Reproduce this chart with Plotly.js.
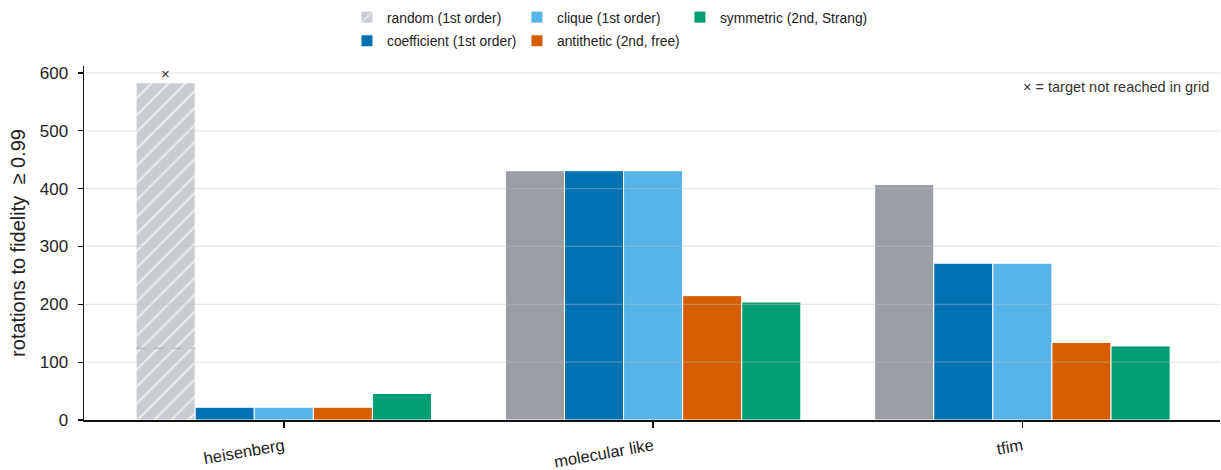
<!DOCTYPE html>
<html>
<head>
<meta charset="utf-8">
<script src="https://cdn.plot.ly/plotly-3.0.1.min.js"></script>
<style>
  html, body { margin: 0; padding: 0; background: #fff; }
  #chart { width: 1221px; height: 470px; }
</style>
</head>
<body>
<div id="chart"></div>
<script>
// Hamiltonian families on the x axis
const families = ["heisenberg", "molecular like", "tfim"];

// Rotations needed to reach fidelity >= 0.99, per ordering scheme
const randomVals      = [583, 431, 407];
const coefficientVals = [22, 431, 271];
const cliqueVals      = [22, 431, 271];
const antitheticVals  = [22, 215, 134];
const symmetricVals   = [46, 204, 128];

// Families where the random ordering never hit the target inside the scanned grid
const notReached = [true, false, false];
// Secondary reference level drawn inside the unreached random bar
const randomInnerLevel = [124, null, null];

const yTicks = [0, 100, 200, 300, 400, 500, 600];

const seriesNames = [
  "random (1st order)",
  "coefficient (1st order)",
  "clique (1st order)",
  "antithetic (2nd, free)",
  "symmetric (2nd, Strang)"
];

const COLORS = {
  randomHatched: "#c9ccd0",
  hatchStripe: "#e9ebed",
  random: "#9b9fa5",
  coefficient: "#0072b2",
  clique: "#56b4e9",
  antithetic: "#d55e00",
  symmetric: "#009e73"
};

const FONT = "Liberation Sans, Arial, Helvetica, sans-serif";
const BARGAP = 0.2;
const NSERIES = 5;
const barWidthCat = (1 - BARGAP) / NSERIES;

const whiteEdge = { color: "#ffffff", width: 1 };

// Random ordering is split in two traces sharing one slot:
// hatched where the target was not reached, solid grey elsewhere.
const randomUnreached = randomVals.map((v, i) => notReached[i] ? v : null);
const randomReached   = randomVals.map((v, i) => notReached[i] ? null : v);

const traces = [
  {
    type: "bar", name: seriesNames[0], x: families, y: randomUnreached,
    offsetgroup: "random", legend: "legend", legendrank: 1,
    marker: {
      color: COLORS.randomHatched,
      line: whiteEdge,
      pattern: {
        shape: "/", bgcolor: COLORS.randomHatched, fgcolor: COLORS.hatchStripe,
        size: 12, solidity: 0.18, fillmode: "replace"
      }
    }
  },
  {
    type: "bar", name: seriesNames[0], x: families, y: randomReached,
    offsetgroup: "random", showlegend: false,
    marker: { color: COLORS.random, line: whiteEdge }
  },
  {
    type: "bar", name: seriesNames[1], x: families, y: coefficientVals,
    offsetgroup: "coefficient", legend: "legend2", legendrank: 1,
    marker: { color: COLORS.coefficient, line: whiteEdge }
  },
  {
    type: "bar", name: seriesNames[2], x: families, y: cliqueVals,
    offsetgroup: "clique", legend: "legend", legendrank: 2,
    marker: { color: COLORS.clique, line: whiteEdge }
  },
  {
    type: "bar", name: seriesNames[3], x: families, y: antitheticVals,
    offsetgroup: "antithetic", legend: "legend2", legendrank: 2,
    marker: { color: COLORS.antithetic, line: whiteEdge }
  },
  {
    type: "bar", name: seriesNames[4], x: families, y: symmetricVals,
    offsetgroup: "symmetric", legend: "legend3", legendrank: 1,
    marker: { color: COLORS.symmetric, line: whiteEdge }
  }
];

// Horizontal gridlines drawn over the bars, semi-transparent
const shapes = yTicks.filter(v => v > 0).map(v => ({
  type: "line", xref: "paper", yref: "y", x0: 0, x1: 1, y0: v, y1: v,
  line: { color: "rgba(195,195,195,0.38)", width: 1.2 }, layer: "above"
}));

// Offset of the random bar centre from its category centre
const randomOffset = -2 * barWidthCat;

randomInnerLevel.forEach((lvl, i) => {
  if (lvl === null) return;
  shapes.push({
    type: "line", xref: "x", yref: "y",
    x0: i + randomOffset - barWidthCat / 2, x1: i + randomOffset + barWidthCat / 2,
    y0: lvl, y1: lvl,
    line: { color: "rgba(120,125,135,0.45)", width: 1, dash: "dash" }, layer: "above"
  });
});

const annotations = [];
notReached.forEach((f, i) => {
  if (!f) return;
  annotations.push({
    xref: "x", yref: "y", x: i + randomOffset, y: randomVals[i],
    text: "×", showarrow: false, yanchor: "bottom", yshift: -1,
    font: { family: FONT, size: 15, color: "#333" }
  });
});
annotations.push({
  xref: "paper", yref: "paper", x: 0.992, y: 0.94,
  xanchor: "right", yanchor: "middle", showarrow: false,
  text: "× = target not reached in grid",
  font: { family: FONT, size: 14.5, color: "#333" }
});

const legendBase = {
  orientation: "h", xanchor: "left", yanchor: "middle",
  entrywidth: 125, entrywidthmode: "pixels",
  font: { family: FONT, size: 13.8, color: "#222" },
  bgcolor: "rgba(0,0,0,0)", traceorder: "normal"
};

const layout = {
  width: 1221, height: 470,
  margin: { l: 84, r: 1, t: 66, b: 50 },
  paper_bgcolor: "#ffffff", plot_bgcolor: "#ffffff",
  font: { family: FONT, color: "#222" },
  barmode: "group", bargap: BARGAP, bargroupgap: 0,
  showlegend: true,
  legend: Object.assign({}, legendBase, { x: 0.2315, y: 1.138 }),
  legend2: Object.assign({}, legendBase, { x: 0.2315, y: 1.071 }),
  legend3: Object.assign({}, legendBase, { x: 0.5246, y: 1.138, entrywidth: 200 }),
  xaxis: {
    type: "category", range: [-0.541, 2.535],
    showline: true, linecolor: "#111", linewidth: 1.5,
    ticks: "outside", ticklen: 6, tickwidth: 1.5, tickcolor: "#111",
    tickangle: -10, ticklabelstandoff: 3,
    tickfont: { family: FONT, size: 16.5, color: "#222" },
    showgrid: false, zeroline: false
  },
  yaxis: {
    range: [0, 612], tickvals: yTicks,
    showline: true, linecolor: "#111", linewidth: 1.5,
    ticks: "outside", ticklen: 5, tickwidth: 1.2, tickcolor: "#111",
    ticklabelstandoff: 6,
    tickfont: { family: FONT, size: 17, color: "#222" },
    showgrid: false, zeroline: false,
    title: { text: "rotations to fidelity \u00a0≥ 0.99", font: { family: FONT, size: 20, color: "#222" }, standoff: 8 }
  },
  shapes: shapes,
  annotations: annotations
};

Plotly.newPlot("chart", traces, layout, { displayModeBar: false, staticPlot: true });
</script>
</body>
</html>
